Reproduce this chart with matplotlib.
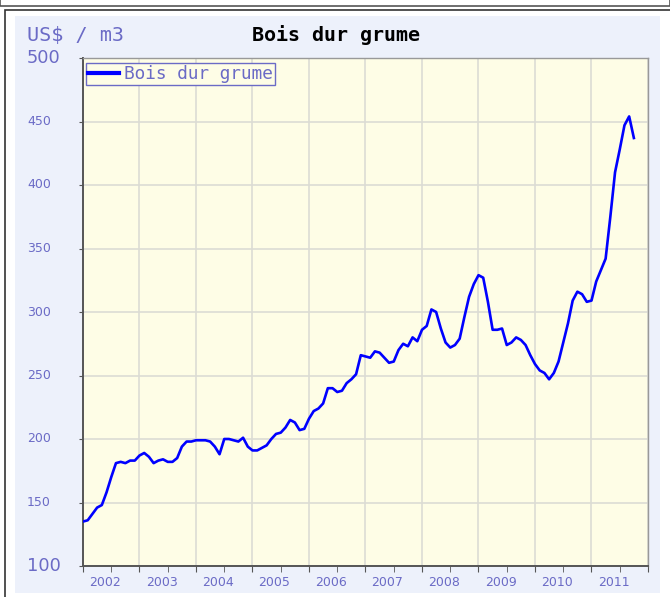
import matplotlib
matplotlib.use("Agg")
import matplotlib.pyplot as plt
import matplotlib.patches as mpatches
import matplotlib.transforms as mtransforms
import numpy as np

# monthly prices, Jan 2002 onwards (US$ / m3)
prices = [
    135, 136, 141, 146, 148, 158, 170, 181, 182, 181, 183, 183,  # 2002
    187, 189, 186, 181, 183, 184, 182, 182, 185, 194, 198, 198,  # 2003
    199, 199, 199, 198, 194, 188, 200, 200, 199, 198, 201, 194,  # 2004
    191, 191, 193, 195, 200, 204, 205, 209, 215, 213, 207, 208,  # 2005
    216, 222, 224, 228, 240, 240, 237, 238, 244, 247, 251, 266,  # 2006
    265, 264, 269, 268, 264, 260, 261, 270, 275, 273, 280, 277,  # 2007
    286, 289, 302, 300, 287, 276, 272, 274, 279, 296, 312, 322,  # 2008
    329, 327, 308, 286, 286, 287, 274, 276, 280, 278, 274, 266,  # 2009
    259, 254, 252, 247, 252, 261, 276, 291, 309, 316, 314, 308,  # 2010
    309, 324, 333, 342, 375, 410, 428, 447, 454, 437,            # 2011
]
year_labels = ["2002", "2003", "2004", "2005", "2006",
               "2007", "2008", "2009", "2010", "2011"]
y_ticks = [100, 150, 200, 250, 300, 350, 400, 450, 500]

series_name = "Bois dur grume"
unit = "US$ / m3"

label_col = "#6b6bc6"
mono = "DejaVu Sans Mono"

t = 2002 + np.arange(len(prices)) / 12.0

fig = plt.figure(figsize=(6.7, 5.97), dpi=100)
fig.patch.set_facecolor("white")

# frames / panel background (figure pixels)
W, H = 670, 597
def fx(px):
    return px / W
def fy(py):
    return 1 - py / H

for r in [
    mpatches.Rectangle((fx(0), fy(6)), 1, 1, fill=False, edgecolor="#555555", lw=1.2),
    mpatches.Rectangle((fx(5), fy(640)), 1.2, fy(10) - fy(640), fill=False,
                       edgecolor="#333333", lw=1.2),
    mpatches.Rectangle((fx(15), fy(593)), fx(660) - fx(15), fy(16) - fy(593),
                       facecolor="#edf1fb", edgecolor="none"),
]:
    r.set_transform(fig.transFigure)
    r.set_zorder(-10)
    fig.add_artist(r)

ax = fig.add_axes([fx(83), fy(566), fx(648) - fx(83), fy(58) - fy(566)])
ax.set_zorder(5)
ax.set_facecolor("#fefde6")

ax.plot(t, prices, color="#0000ff", lw=1.9, label=series_name, zorder=3)

ax.set_xlim(2002, 2012)
ax.set_ylim(100, 500)

years = np.arange(2002, 2013)
ax.set_xticks(years)
ax.set_xticklabels([])
ax.set_xticks(years[:-1] + 0.5, minor=True)
ax.tick_params(axis="x", which="both", direction="out", length=4, color="#555555")
ax.grid(True, axis="x", which="major", color="#dcdcd4", lw=1.2)

ax.set_yticks(y_ticks)
ax.set_yticklabels([])
ax.tick_params(axis="y", direction="out", length=3, color="#555555")
ax.grid(True, axis="y", color="#dcdcd4", lw=1.2)
ax.set_axisbelow(True)

trans_x = mtransforms.blended_transform_factory(ax.transData, ax.transAxes)
for yr, lab in zip(years[:-1], year_labels):
    ax.text(yr + 0.39, -0.032, lab, transform=trans_x, ha="center", va="center",
            fontsize=9, color=label_col)

# y labels left-aligned at x = 28 px
trans_y = mtransforms.blended_transform_factory(fig.transFigure, ax.transData)
for v in y_ticks:
    big = v in (100, 500)
    ax.text(fx(27), v, str(v), transform=trans_y, ha="left",
            va="center", fontsize=12.8 if big else 9, color=label_col)

for side in ["left", "bottom"]:
    ax.spines[side].set_color("#555555")
    ax.spines[side].set_linewidth(1.4)
for side in ["top", "right"]:
    ax.spines[side].set_color("#999999")
    ax.spines[side].set_linewidth(1.0)

leg = ax.legend(loc="upper left", bbox_to_anchor=(0.005, 0.99), frameon=True,
                fancybox=False, handlelength=1.75, handletextpad=0.3,
                borderpad=0.12, borderaxespad=0.0,
                prop={"family": mono, "size": 12.8})
leg.get_frame().set_edgecolor(label_col)
leg.get_frame().set_facecolor("#fefde6")
leg.get_frame().set_linewidth(1.0)
leg.get_frame().set_alpha(1.0)
for txt in leg.get_texts():
    txt.set_color(label_col)
leg.get_lines()[0].set_linewidth(3)

fig.text(fx(27), fy(35), unit, family=mono, fontsize=14.5, color=label_col,
         ha="left", va="center")
fig.text(fx(336), fy(35), series_name, family=mono, fontsize=14.4, color="black",
         fontweight="bold", ha="center", va="center")

fig.savefig("out.png", dpi=100, facecolor=fig.get_facecolor())
